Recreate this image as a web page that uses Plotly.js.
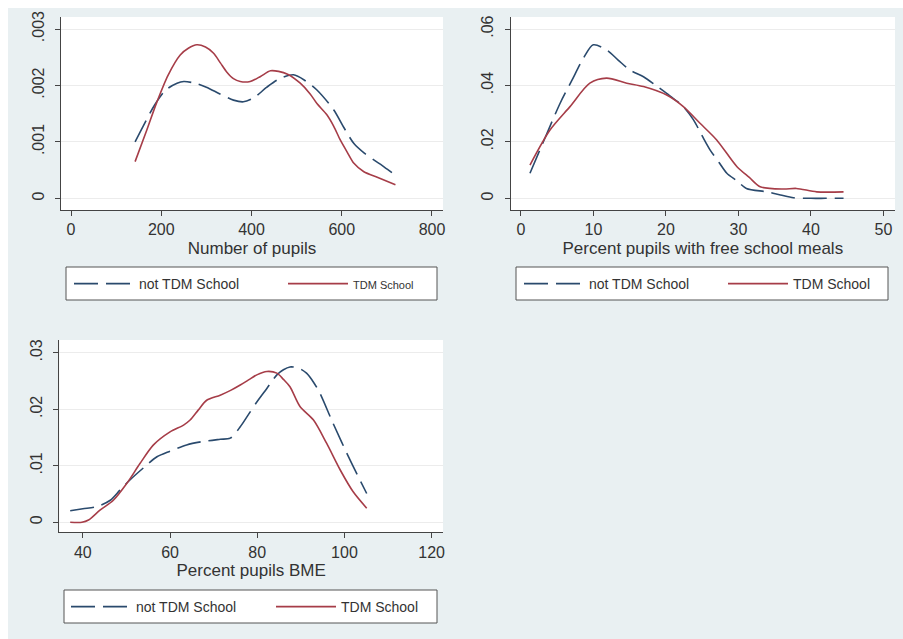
<!DOCTYPE html>
<html><head><meta charset="utf-8">
<script src="https://cdn.plot.ly/plotly-3.0.1.min.js"></script>
<style>html,body{margin:0;padding:0;background:#fff}</style>
</head><body><div id="chart" style="width:903px;height:639px"></div>
<script>
// ---- Data: kernel density estimates ----
const seriesNames = ['not TDM School', 'TDM School'];

// Panel 1: Number of pupils
const pupilsNotX = [142,160,185,210,235,250,275,300,330,360,382,405,434,460,493,520,545,582,605,627,650,671,695,719];
const pupilsNotY = [0.00100,0.00128,0.00165,0.00192,0.00204,0.00207,0.00204,0.00197,0.00185,0.00174,0.00171,0.00178,0.00197,0.00211,0.00219,0.00208,0.00192,0.00157,0.00125,0.00097,0.00080,0.00068,0.00055,0.00041];
const pupilsTdmX = [142,168,190,215,242,260,279,298,316,331,345,360,375,397,420,442,460,480,508,530,545,567,582,597,612,627,649,680,719];
const pupilsTdmY = [0.00065,0.00121,0.00170,0.00218,0.00254,0.00266,0.00272,0.00268,0.00257,0.00240,0.00224,0.00212,0.00207,0.00207,0.00216,0.00226,0.00225,0.00220,0.00204,0.00185,0.00168,0.00148,0.00128,0.00103,0.00082,0.00062,0.00047,0.00037,0.00024];

// Panel 2: Percent pupils with free school meals
const fsmNotX = [1.24,3,5.4,7,8.6,9.97,11.8,13.4,15.0,16.9,18.5,20.1,22.4,23.8,25,26.1,27.3,28.4,29.8,31.1,33.9,35.8,37.6,40,42,44.5];
const fsmNotY = [0.0089,0.0195,0.0337,0.0417,0.0496,0.0544,0.0526,0.0490,0.0455,0.0431,0.0402,0.0372,0.0325,0.0278,0.0221,0.0171,0.0128,0.0089,0.0062,0.0035,0.0023,0.0012,0.0002,0,0,0];
const fsmTdmX = [1.24,4.0,6.76,9.5,11.8,14.6,16.9,20.1,22.4,24.7,27.0,29.8,31.5,33.0,36.2,38.0,40.8,44.5];
const fsmTdmY = [0.0118,0.0242,0.0325,0.0408,0.0426,0.0408,0.0396,0.0366,0.0325,0.0266,0.0207,0.0112,0.0074,0.0041,0.0033,0.0035,0.0023,0.0023];

// Panel 3: Percent pupils BME
const bmeNotX = [37.1,40,43.2,46.3,48.5,50.8,54,57.0,60,63.8,67.5,71.5,73.8,76.1,78,79.9,82.2,84.5,86,87.5,89.5,91.3,92.9,94.4,97.4,101.3,105.1];
const bmeNotY = [0.00205,0.0024,0.00277,0.0039,0.0057,0.0075,0.0097,0.0116,0.0126,0.0137,0.0143,0.0147,0.0149,0.0169,0.0191,0.0213,0.0237,0.0261,0.0270,0.0275,0.0273,0.0264,0.0248,0.0228,0.0175,0.0110,0.0051];
const bmeTdmX = [37.1,39.8,41.3,44.0,47.0,50.1,53.1,56.2,60.0,63.1,64.6,66.5,68.4,71.5,74,76.1,78,79.9,82.2,84.5,86,87.5,89.8,92.9,95.9,99.0,102.0,105.1];
const bmeTdmY = [0,0,0.0004,0.0022,0.0039,0.0069,0.0104,0.0137,0.0160,0.0172,0.0181,0.0199,0.0216,0.0225,0.0234,0.0243,0.0252,0.0261,0.0267,0.0264,0.0253,0.0240,0.0205,0.0181,0.0140,0.0093,0.0054,0.0025];

// Axis titles and tick labels
const axisTitles = ['Number of pupils', 'Percent pupils with free school meals', 'Percent pupils BME'];
const xTicks1 = [0,200,400,600,800];
const xTicks2 = [0,10,20,30,40,50];
const xTicks3 = [40,60,80,100,120];
const yTicks1 = [0,0.001,0.002,0.003];
const yTickText1 = ['0','.001','.002','.003'];
const yTicks2 = [0,0.02,0.04,0.06];
const yTickText2 = ['0','.02','.04','.06'];
const yTicks3 = [0,0.01,0.02,0.03];
const yTickText3 = ['0','.01','.02','.03'];

// ---- Styling ----
const W = 903, H = 639;
const FONT = 'Liberation Sans, Arial, Helvetica, sans-serif';
const NAVY = '#2a4a6d';
const MAROON = '#a63d48';
const TXT = '#333333';

function px(x) { return x / W; }
function py(y) { return 1 - y / H; }

function mk(x, y, s, xa, ya, leg, showName) {
  const dashed = s === 0;
  return {
    x: x, y: y, type: 'scatter', mode: 'lines',
    name: showName || seriesNames[s],
    xaxis: xa, yaxis: ya, legend: leg,
    line: {color: dashed ? NAVY : MAROON, width: 1.6, dash: dashed ? '24px,8px' : 'solid', shape: 'spline', smoothing: 0.8},
    hoverinfo: 'x+y'
  };
}

const traces = [
  mk(pupilsNotX, pupilsNotY, 0, 'x', 'y', 'legend'),
  mk(pupilsTdmX, pupilsTdmY, 1, 'x', 'y', 'legend', '<span style="font-size:11px">TDM School</span>'),
  mk(fsmNotX, fsmNotY, 0, 'x2', 'y2', 'legend2'),
  mk(fsmTdmX, fsmTdmY, 1, 'x2', 'y2', 'legend2'),
  mk(bmeNotX, bmeNotY, 0, 'x3', 'y3', 'legend3'),
  mk(bmeTdmX, bmeTdmY, 1, 'x3', 'y3', 'legend3')
];

function xAxis(dom, range, ticks, title, anchor) {
  return {
    domain: dom, range: range, anchor: anchor,
    tickvals: ticks, ticks: 'outside', ticklen: 5, tickcolor: '#444', tickwidth: 1,
    showline: true, linecolor: '#444', linewidth: 1, mirror: false,
    showgrid: false, zeroline: false, automargin: false,
    tickfont: {family: FONT, size: 16, color: TXT},
    title: {text: title, font: {family: FONT, size: 17, color: TXT}, standoff: 4},
    fixedrange: true
  };
}
function yAxis(dom, range, ticks, text, anchor) {
  return {
    domain: dom, range: range, anchor: anchor,
    tickvals: ticks, ticktext: text, tickangle: -90,
    ticks: 'outside', ticklen: 5, tickcolor: '#444', tickwidth: 1,
    showline: true, linecolor: '#444', linewidth: 1, mirror: false,
    showgrid: true, gridcolor: '#ececec', gridwidth: 1, zeroline: false, automargin: false,
    tickfont: {family: FONT, size: 16, color: TXT},
    ticklabelstandoff: 5,
    fixedrange: true
  };
}
function legendAt(xp, yp, ew) {
  return {
    x: px(xp), y: py(yp), xanchor: 'left', yanchor: 'top',
    orientation: 'h', bgcolor: 'rgba(0,0,0,0)', borderwidth: 0,
    font: {family: FONT, size: 14, color: TXT},
    itemwidth: 60, entrywidth: ew, entrywidthmode: 'pixels',
    itemclick: false, itemdoubleclick: false
  };
}
function box(x0, y0, x1, y1) {
  return {type: 'rect', xref: 'paper', yref: 'paper', x0: px(x0), x1: px(x1), y0: py(y1), y1: py(y0),
          fillcolor: '#ffffff', line: {color: '#555555', width: 1}, layer: 'below'};
}

const layout = {
  width: W, height: H,
  margin: {l: 0, r: 0, t: 0, b: 0, pad: 0, autoexpand: false},
  paper_bgcolor: '#e9f0f2',
  plot_bgcolor: '#ffffff',
  font: {family: FONT, color: TXT},
  showlegend: true,
  xaxis:  xAxis([px(61), px(443)], [-22.2, 824.4], xTicks1, axisTitles[0], 'y'),
  yaxis:  yAxis([py(210), py(17)], [-0.000207, 0.003213], yTicks1, yTickText1, 'x'),
  xaxis2: xAxis([px(510.7), px(895)], [-1.42, 51.6], xTicks2, axisTitles[1], 'y2'),
  yaxis2: yAxis([py(210), py(17)], [-0.00414, 0.06426], yTicks2, yTickText2, 'x2'),
  xaxis3: xAxis([px(59.3), px(443)], [34.6, 122.6], xTicks3, axisTitles[2], 'y3'),
  yaxis3: yAxis([py(532.3), py(340)], [-0.00177, 0.03227], yTicks3, yTickText3, 'x3'),
  legend:  legendAt(69, 268, 139),
  legend2: legendAt(519, 268, 129),
  legend3: legendAt(66, 591, 130),
  shapes: [
    {type: 'rect', xref: 'paper', yref: 'paper', x0: 0, x1: 1, y0: py(8), y1: 1, fillcolor: '#ffffff', line: {width: 0}, layer: 'below'},
    {type: 'rect', xref: 'paper', yref: 'paper', x0: 0, x1: px(8), y0: 0, y1: 1, fillcolor: '#ffffff', line: {width: 0}, layer: 'below'},
    box(66, 267, 437, 300),
    box(516, 267, 888, 300),
    box(64, 590, 437, 623)
  ]
};

Plotly.newPlot('chart', traces, layout, {displayModeBar: false, staticPlot: false});
</script></body></html>
